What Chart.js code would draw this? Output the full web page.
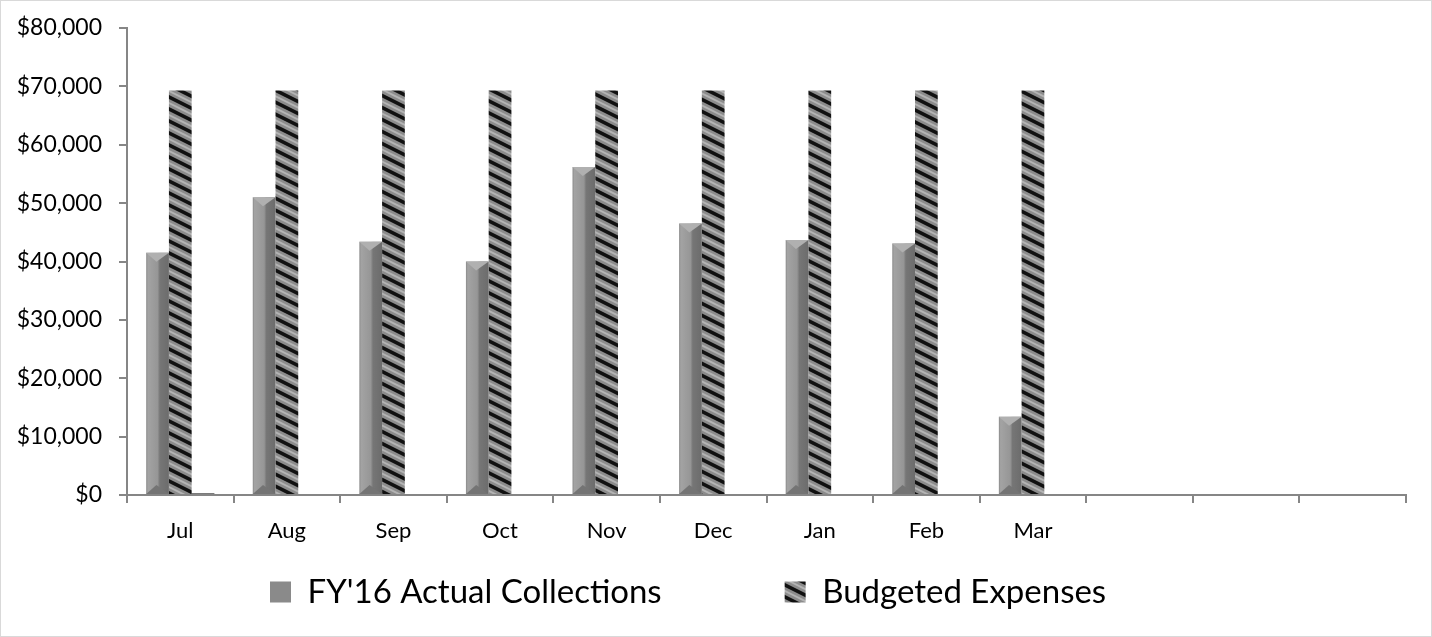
<!DOCTYPE html>
<html>
<head>
<meta charset="utf-8">
<script src="https://cdn.jsdelivr.net/npm/chart.js@4.4.1/dist/chart.umd.min.js"></script>
<style>
  html, body { margin: 0; padding: 0; background: #ffffff; }
  #wrap { width: 1432px; height: 637px; box-sizing: border-box; border: 1px solid #d9d9d9; position: relative; }
  #c { display: block; }
</style>
</head>
<body>
<div id="wrap"><canvas id="c" width="1430" height="635"></canvas></div>
<script>
// ---- Data ----
const categories = ['Jul', 'Aug', 'Sep', 'Oct', 'Nov', 'Dec', 'Jan', 'Feb', 'Mar', '', '', ''];
const actualCollections = [41500, 51000, 43400, 40000, 56200, 46500, 43700, 43100, 13400, null, null, null];
const budgetedExpenses = [69300, 69300, 69300, 69300, 69300, 69300, 69300, 69300, 69300, null, null, null];
const otherSeries = [300, null, null, null, null, null, null, null, null, null, null, null];
const seriesNames = ["FY'16 Actual Collections", 'Budgeted Expenses', ''];
const yTicks = { min: 0, max: 80000, step: 10000 };

// ---- Patterns ----
function makeStripePattern(ctx) {
  const t = document.createElement('canvas');
  t.width = 24; t.height = 12;
  const g = t.getContext('2d');
  g.fillStyle = '#8c8c8c';
  g.fillRect(0, 0, 24, 12);
  for (const off of [-12, 0, 12]) {
    g.strokeStyle = '#b4b4b4';
    g.lineWidth = 2;
    g.beginPath(); g.moveTo(-24, -12 + off + 6); g.lineTo(48, 24 + off + 6); g.stroke();
    g.strokeStyle = '#111111';
    g.lineWidth = 3.6;
    g.beginPath(); g.moveTo(-24, -12 + off); g.lineTo(48, 24 + off); g.stroke();
  }
  return ctx.createPattern(t, 'repeat');
}

const ctx = document.getElementById('c').getContext('2d');
const stripe = makeStripePattern(ctx);

function actualFill(c) {
  const chart = c.chart;
  const meta = chart.getDatasetMeta(c.datasetIndex);
  const el = meta.data[c.dataIndex];
  if (!el || el.x == null || isNaN(el.x) || !el.width) return '#8e8e8e';
  const w = el.width;
  const g = chart.ctx.createLinearGradient(el.x - w / 2, 0, el.x + w / 2, 0);
  g.addColorStop(0, '#8a8a8a');
  g.addColorStop(0.08, '#a3a3a3');
  g.addColorStop(0.5, '#969696');
  g.addColorStop(0.6, '#767676');
  g.addColorStop(1, '#6c6c6c');
  return g;
}

// Bevel cap on top of the "Actual" bars (drawn on the library's own bar elements)
const bevelCap = {
  id: 'bevelCap',
  afterDatasetsDraw(chart) {
    const meta = chart.getDatasetMeta(0);
    const c = chart.ctx;
    c.save();
    meta.data.forEach(el => {
      if (el.y == null || isNaN(el.y) || el.base - el.y < 8) return;
      const l = el.x - el.width / 2, r = el.x + el.width / 2, t = el.y, m = el.x - el.width * 0.05;
      c.fillStyle = '#b0b0b0';
      c.beginPath();
      c.moveTo(l, t); c.lineTo(r, t); c.lineTo(m, t + 9); c.closePath();
      c.fill();
      c.fillStyle = '#747474';
      c.beginPath();
      c.moveTo(l, el.base); c.lineTo(r, el.base); c.lineTo(m, el.base - 9); c.closePath();
      c.fill();
    });
    c.restore();
  }
};

const legendShift = {
  id: 'legendShift',
  afterLayout(chart) {
    const lg = chart.legend;
    if (!lg || !lg.lineWidths) return;
    const p = lg.options.labels.padding;
    const x0 = (lg.left + p + lg.right - lg.lineWidths[0]) / 2;
    const dx = 269 - x0;
    lg.left += dx; lg.right += dx;
    const fs = lg.options.labels.font.size;
    const itemH = Math.max(fs, lg.options.labels.boxHeight);
    lg.top = 591 - itemH / 2 - p;
    lg.bottom = chart.height;
  }
};

const axisGray = '#868686';
const fontFamily = 'Lato, "Open Sans", sans-serif';

const chart = new Chart(ctx, {
  type: 'bar',
  data: {
    labels: categories,
    datasets: [
      { label: seriesNames[0], data: actualCollections, backgroundColor: actualFill, borderWidth: 0,
        categoryPercentage: 0.64, barPercentage: 1.0 },
      { label: seriesNames[1], data: budgetedExpenses, backgroundColor: stripe, borderWidth: 0,
        categoryPercentage: 0.64, barPercentage: 1.0 },
      { label: seriesNames[2], data: otherSeries, backgroundColor: '#4f4f4f', borderWidth: 0,
        categoryPercentage: 0.64, barPercentage: 1.0 }
    ]
  },
  options: {
    responsive: false,
    animation: false,
    events: [],
    layout: { padding: { top: 27, right: 25, bottom: 0, left: 0 } },
    scales: {
      x: {
        offset: true,
        grid: { offset: true, drawOnChartArea: false, drawTicks: true, tickLength: 8, color: axisGray, lineWidth: 2 },
        border: { display: true, color: axisGray, width: 2 },
        ticks: { color: '#000', font: { family: fontFamily, size: 22 }, padding: 15, maxRotation: 0, autoSkip: false },
        afterFit(s) { s.height = 81; s.paddingLeft = 0; s.paddingRight = 0; }
      },
      y: {
        min: yTicks.min, max: yTicks.max,
        grid: { drawOnChartArea: false, drawTicks: true, tickLength: 8, color: axisGray, lineWidth: 2 },
        border: { display: true, color: axisGray, width: 2 },
        ticks: {
          stepSize: yTicks.step, color: '#000', font: { family: fontFamily, size: 23 }, padding: 17,
          callback: v => '$' + Number(v).toLocaleString('en-US')
        },
        afterFit(s) { s.width = 126; s.paddingTop = 0; s.paddingBottom = 0; }
      }
    },
    plugins: {
      tooltip: { enabled: false },
      legend: {
        position: 'bottom',
        maxHeight: 60,
        labels: {
          color: '#000',
          font: { family: fontFamily, size: 33 },
          boxWidth: 21, boxHeight: 21,
          padding: 123,
          generateLabels(ch) {
            return [
              { text: seriesNames[0], fillStyle: '#8a8a8a', strokeStyle: 'rgba(0,0,0,0)', lineWidth: 0, datasetIndex: 0, hidden: false },
              { text: seriesNames[1], fillStyle: stripe, strokeStyle: 'rgba(0,0,0,0)', lineWidth: 0, datasetIndex: 1, hidden: false }
            ];
          }
        }
      }
    }
  },
  plugins: [legendShift, bevelCap]
});
chart.update('none');
</script>
</body>
</html>
